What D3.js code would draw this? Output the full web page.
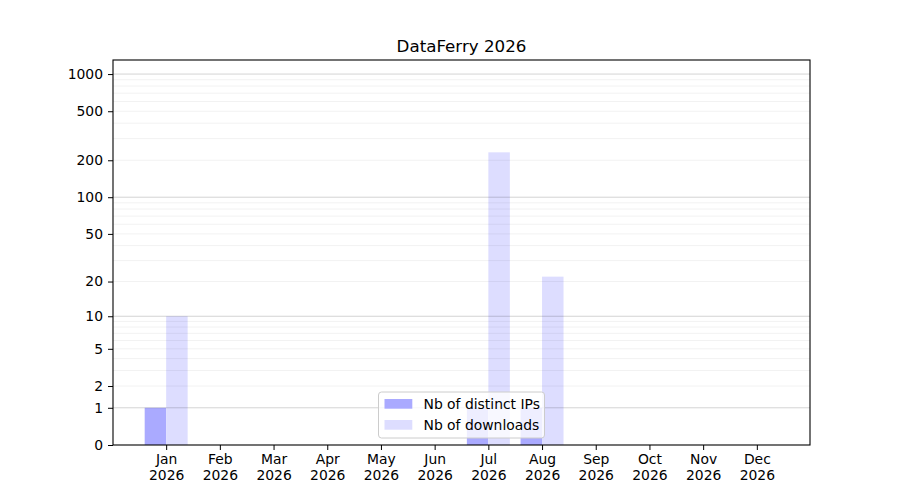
<!DOCTYPE html>
<html>
<head>
<meta charset="utf-8">
<script src="https://cdn.jsdelivr.net/npm/d3@7"></script>
<style>
    body { margin: 0; background: white; }
    svg { font-family: "DejaVu Sans", sans-serif; }
</style>
</head>
<body>
<div id="chart"></div>
<script>
// Chart data
const months = ['Jan', 'Feb', 'Mar', 'Apr', 'May', 'Jun', 'Jul', 'Aug', 'Sep', 'Oct', 'Nov', 'Dec'];
const year = '2026';
const distinctIps = [1, 0, 0, 0, 0, 0, 1, 1, 0, 0, 0, 0];
const downloads = [10, 0, 0, 0, 0, 0, 232, 22, 0, 0, 0, 0];
const yTicks = [0, 1, 2, 5, 10, 20, 50, 100, 200, 500, 1000];
const majorGrid = [1, 10, 100, 1000];
const seriesNames = ['Nb of distinct IPs', 'Nb of downloads'];
const title = 'DataFerry 2026';

const size = { width: 900, height: 500 };
const margin = { top: 60, right: 90, bottom: 55, left: 113 };
const inner = {
    width: size.width - margin.left - margin.right,
    height: size.height - margin.top - margin.bottom
};
const colors = { ips: 'rgb(170,170,255)', downloads: 'rgb(221,221,255)' };
const barW = 0.4;

const svg = d3.select('#chart').append('svg')
    .attr('width', size.width)
    .attr('height', size.height);

const g = svg.append('g')
    .attr('transform', 'translate(' + margin.left + ',' + margin.top + ')');

// x: month index, same padding as matplotlib autoscale around the bars
const xScale = d3.scaleLinear()
    .domain([-0.99, 11.99])
    .range([0, inner.width]);

// y: log(1 + x) style scale
const yScale = d3.scaleSymlog()
    .constant(1)
    .domain([0, 1300])
    .range([inner.height, 0]);

// bars
const idx = d3.range(months.length);
g.selectAll('.barIps').data(idx).enter().append('rect')
    .attr('class', 'barIps')
    .attr('x', i => xScale(i - barW))
    .attr('width', xScale(barW) - xScale(0))
    .attr('y', i => yScale(distinctIps[i]))
    .attr('height', i => yScale(0) - yScale(distinctIps[i]))
    .attr('fill', colors.ips);

g.selectAll('.barDl').data(idx).enter().append('rect')
    .attr('class', 'barDl')
    .attr('x', i => xScale(i))
    .attr('width', xScale(barW) - xScale(0))
    .attr('y', i => yScale(downloads[i]))
    .attr('height', i => yScale(0) - yScale(downloads[i]))
    .attr('fill', colors.downloads);

// grid lines (minor then major), drawn over the bars like matplotlib
const minorGrid = [];
majorGrid.slice(0, 3).forEach(function (d) {
    for (let k = 2; k < 10; k++) {
        minorGrid.push(d * k);
    }
});
g.selectAll('.minorGrid').data(minorGrid).enter().append('line')
    .attr('class', 'minorGrid')
    .attr('x1', 0).attr('x2', inner.width)
    .attr('y1', d => yScale(d)).attr('y2', d => yScale(d))
    .attr('stroke', '#000').attr('stroke-opacity', 0.07)
    .attr('stroke-width', 0.8);
g.selectAll('.majorGrid').data(majorGrid).enter().append('line')
    .attr('class', 'majorGrid')
    .attr('x1', 0).attr('x2', inner.width)
    .attr('y1', d => yScale(d)).attr('y2', d => yScale(d))
    .attr('stroke', '#000').attr('stroke-opacity', 0.22)
    .attr('stroke-width', 0.8);

// axes
const xAxis = d3.axisBottom(xScale)
    .tickValues(idx)
    .tickSize(5)
    .tickSizeOuter(0)
    .tickFormat(i => months[i]);
const xAxisG = g.append('g')
    .attr('transform', 'translate(0,' + inner.height + ')')
    .call(xAxis);
xAxisG.selectAll('.tick text').each(function (i) {
    const t = d3.select(this).text(null).attr('y', 9.5);
    t.append('tspan').attr('x', 0).attr('dy', '0.71em').text(months[i]);
    t.append('tspan').attr('x', 0).attr('dy', '1.15em').text(year);
});

const yAxisG = g.append('g')
    .call(d3.axisLeft(yScale).tickValues(yTicks).tickSize(5).tickSizeOuter(0)
        .tickFormat(d3.format('d')));

[xAxisG, yAxisG].forEach(function (ax) {
    ax.select('.domain').remove();
    ax.selectAll('.tick line').attr('stroke', '#000').attr('stroke-width', 1);
    ax.selectAll('.tick text').attr('fill', '#000').style('font-size', '13.9px')
        .style('font-family', '"DejaVu Sans", sans-serif');
});
yAxisG.selectAll('.tick text').attr('x', -10);

// frame
g.append('rect')
    .attr('width', inner.width)
    .attr('height', inner.height)
    .attr('fill', 'none')
    .attr('stroke', '#000')
    .attr('stroke-width', 1.1);

// title
svg.append('text')
    .attr('x', margin.left + inner.width / 2)
    .attr('y', margin.top - 8)
    .attr('text-anchor', 'middle')
    .style('font-size', '16.7px')
    .text(title);

// legend, lower center
const legend = g.append('g')
    .attr('transform', 'translate(' + (inner.width / 2 - 83) + ',' + (inner.height - 53) + ')');
legend.append('rect')
    .attr('width', 166).attr('height', 46)
    .attr('rx', 3).attr('ry', 3)
    .attr('fill', 'white').attr('fill-opacity', 0.8)
    .attr('stroke', '#ccc').attr('stroke-width', 1);
[colors.ips, colors.downloads].forEach(function (c, i) {
    legend.append('rect')
        .attr('x', 6).attr('y', 7 + i * 21)
        .attr('width', 27.8).attr('height', 9.7)
        .attr('fill', c);
    legend.append('text')
        .attr('x', 45).attr('y', 12 + i * 21)
        .attr('dy', '0.35em')
        .style('font-size', '13.9px')
        .text(seriesNames[i]);
});
</script>
</body>
</html>
